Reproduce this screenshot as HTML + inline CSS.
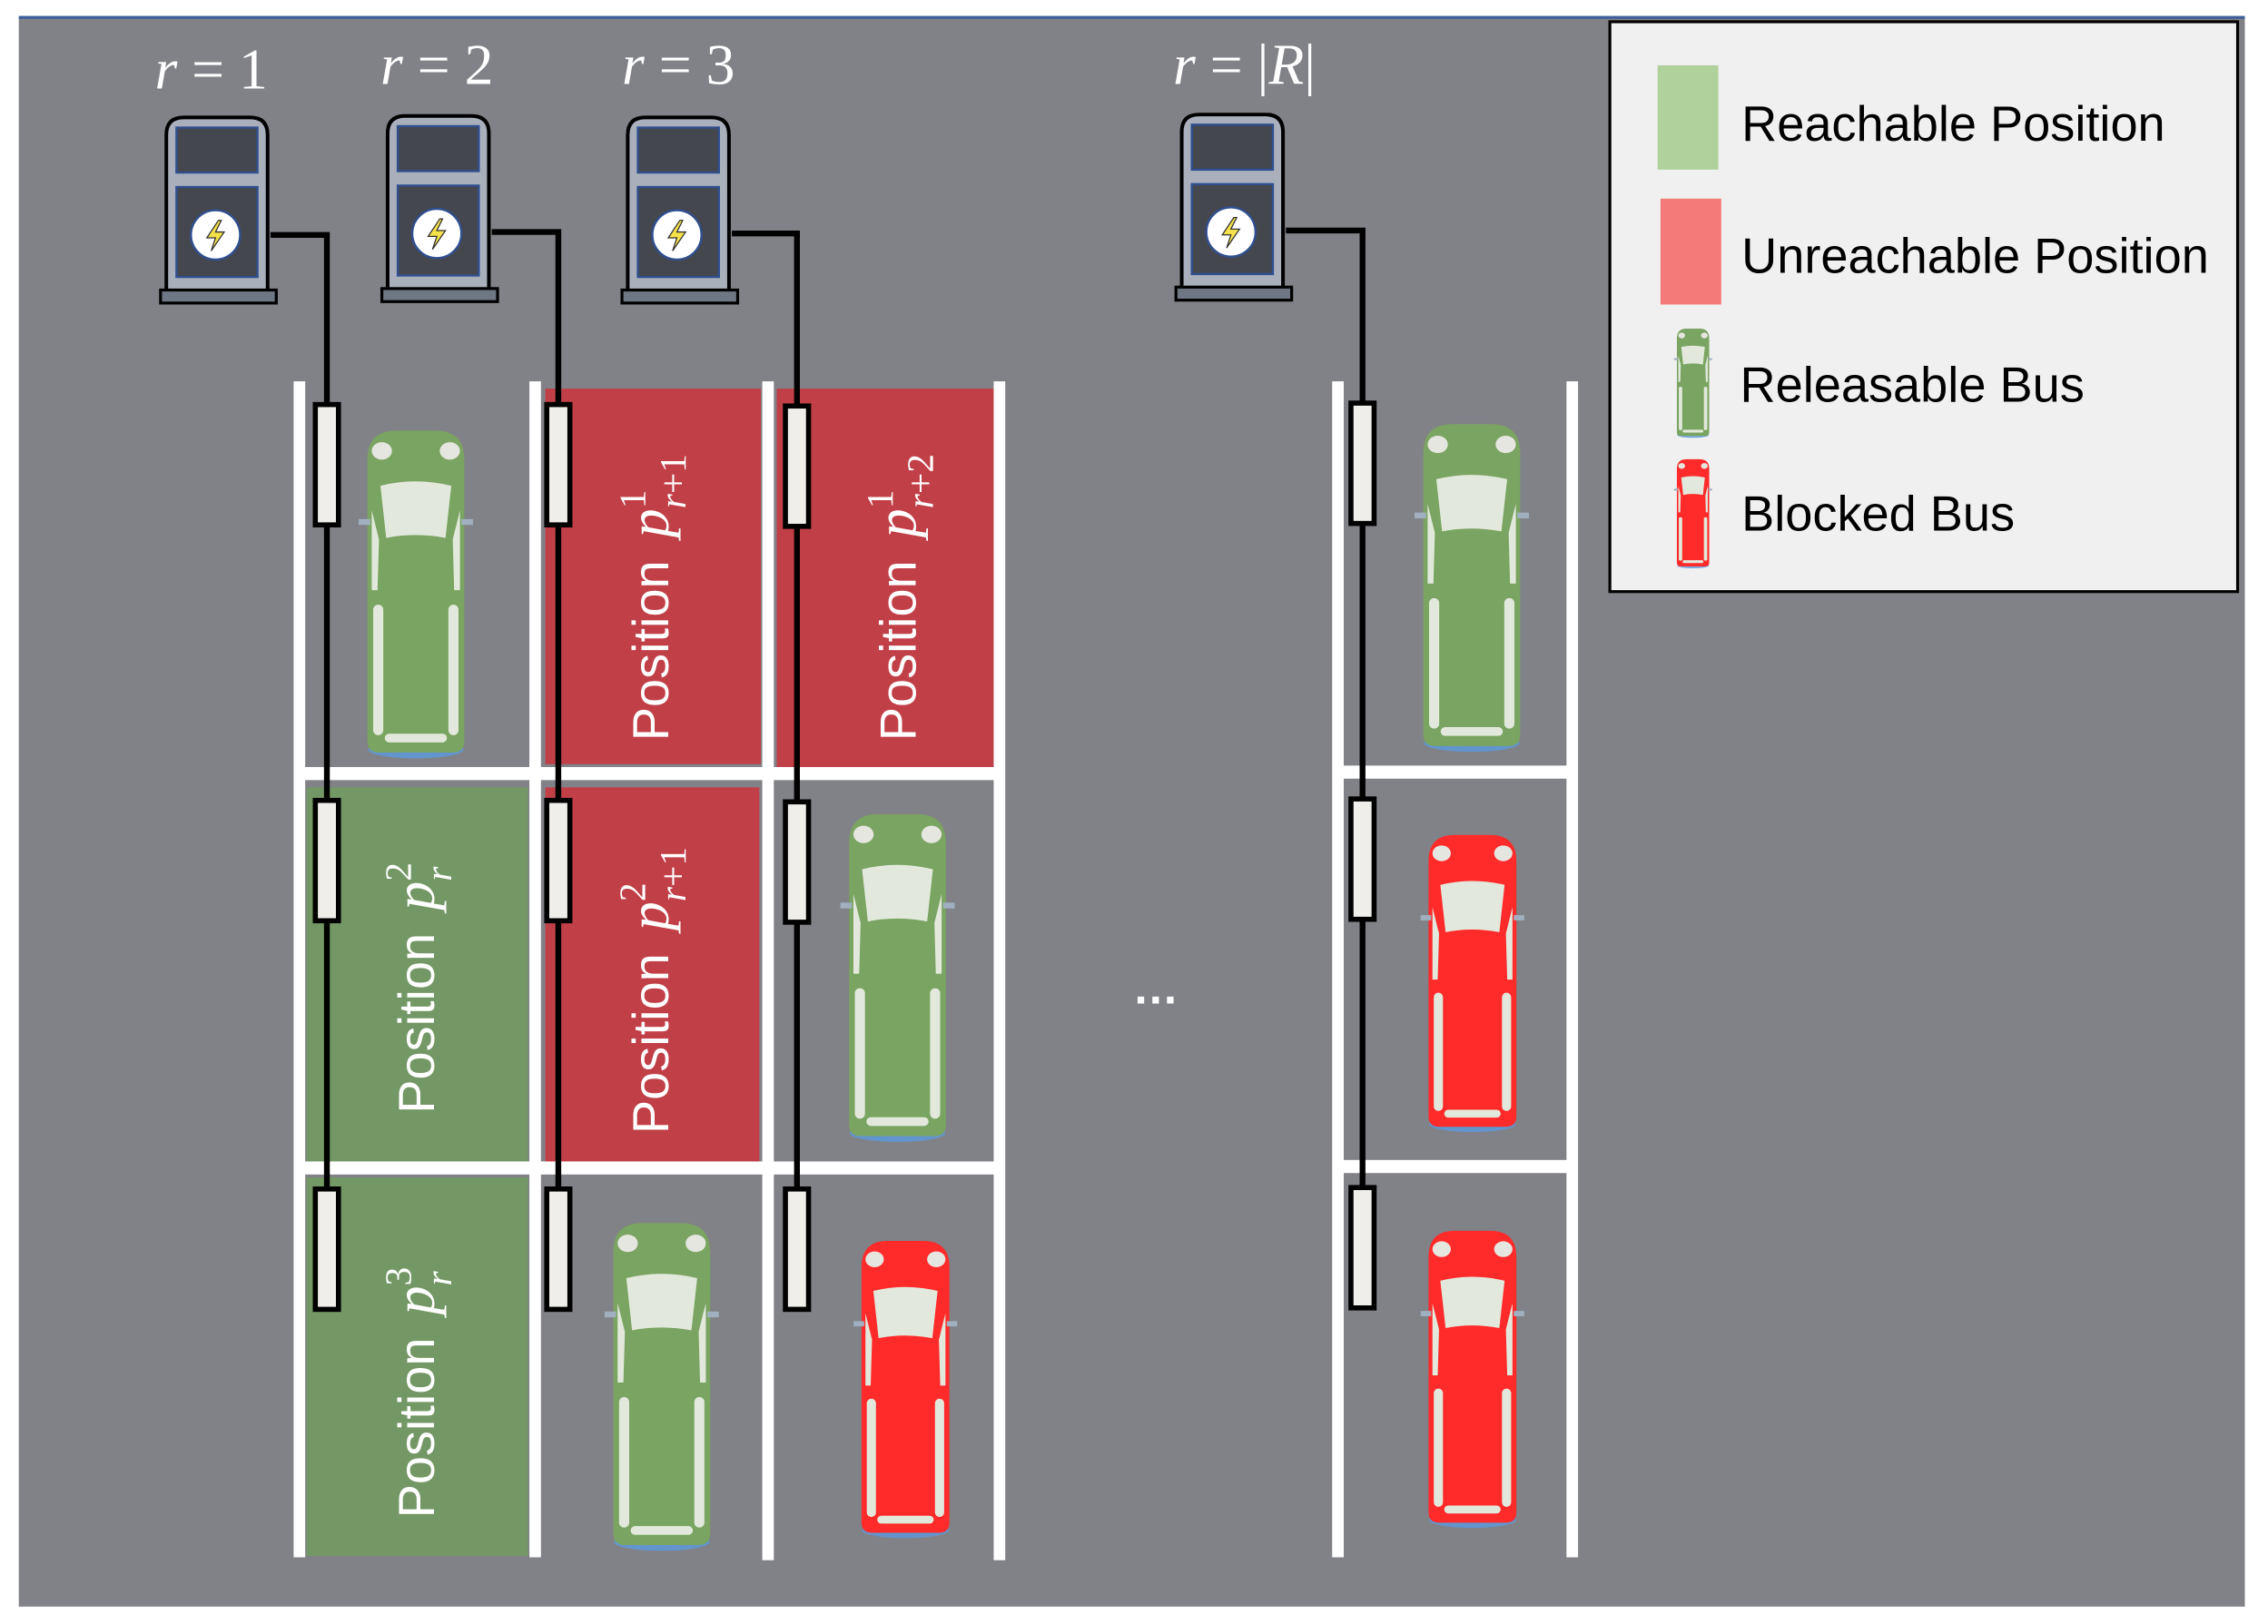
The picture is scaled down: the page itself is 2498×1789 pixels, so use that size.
<!DOCTYPE html>
<html><head><meta charset="utf-8"><style>
html,body{margin:0;padding:0;background:#fff;}
svg{display:block;}
.lbl{font-family:"Liberation Sans",sans-serif;font-size:35px;fill:#fff;}
.m{font-family:"Liberation Serif",serif;font-style:italic;}
.n{font-family:"Liberation Serif",serif;}
</style></head><body>
<svg width="2498" height="1789" viewBox="0 0 1568 1120" preserveAspectRatio="none" xmlns="http://www.w3.org/2000/svg">
<defs>
<symbol id="st" viewBox="0 0 82 130" overflow="visible">
  <path d="M4,124 L4,14 Q4,2 16,2 L62,2 Q74,2 74,14 L74,124 Z" fill="#a9b0bb" stroke="#000" stroke-width="2.5"/>
  <rect x="11" y="9" width="56" height="31" fill="#45474f" stroke="#2f4f8f" stroke-width="1.5"/>
  <rect x="11" y="50" width="56" height="62" fill="#45474f" stroke="#2f4f8f" stroke-width="1.5"/>
  <circle cx="38" cy="83" r="17" fill="#fff" stroke="#2f4f8f" stroke-width="1.5"/>
  <path d="M40,73 L32,85 L38,85 L35,94 L44,81 L38,81 L42,73 Z" fill="#f5e14a" stroke="#333" stroke-width="0.8"/>
  <rect x="0" y="121" width="80" height="9" fill="#6f7684" stroke="#000" stroke-width="2"/>
</symbol>
<symbol id="bus" viewBox="0 0 75 225" overflow="visible">
  <ellipse cx="37.5" cy="222" rx="33" ry="6" fill="#5a9ae0" opacity="0.8"/>
  <path d="M4,216 L4,22 Q4,2 24,2 L51,2 Q71,2 71,22 L71,216 Q71,224 63,224 L12,224 Q4,224 4,216 Z" fill="currentColor"/>
  <ellipse cx="14" cy="16" rx="7" ry="6" fill="#e6e6e0"/>
  <ellipse cx="61" cy="16" rx="7" ry="6" fill="#e6e6e0"/>
  <path d="M13,40 Q37,34 62,40 L58,76 Q37,72 17,76 Z" fill="#e2e9dc"/>
  <rect x="-2" y="63" width="8" height="4" fill="#a0b0c0"/>
  <rect x="69" y="63" width="8" height="4" fill="#a0b0c0"/>
  <path d="M7,57 L12,77 L11,112 L7,112 Z" fill="#e2e9dc"/>
  <path d="M68,57 L63,77 L64,112 L68,112 Z" fill="#e2e9dc"/>
  <rect x="8" y="122" width="7" height="90" rx="3.5" fill="#e2e9dc"/>
  <rect x="60" y="122" width="7" height="90" rx="3.5" fill="#e2e9dc"/>
  <rect x="16" y="211" width="43" height="6" rx="3" fill="#e2e9dc"/>
</symbol>
</defs>
<rect x="0" y="0" width="1568" height="1120" fill="#fff"/>
<rect x="13" y="12" width="1539" height="1096" fill="#818287"/>
<rect x="13" y="11" width="1539" height="2" fill="#3d5f9a"/>

<rect x="377" y="268" width="149" height="259" fill="#c13f47"/>
<rect x="537" y="268" width="150" height="262" fill="#c13f47"/>
<rect x="377" y="543" width="148" height="259" fill="#c13f47"/>
<rect x="212" y="543" width="153" height="258" fill="#739765"/>
<rect x="212" y="812" width="153" height="261" fill="#739765"/>

<g fill="#fff">
<rect x="203" y="263" width="8" height="811"/>
<rect x="366" y="263" width="8" height="811"/>
<rect x="527" y="263" width="8" height="813"/>
<rect x="687" y="263" width="8" height="813"/>
<rect x="207" y="529" width="484" height="9"/>
<rect x="207" y="801" width="484" height="9"/>
<rect x="921" y="263" width="8" height="811"/>
<rect x="1083" y="263" width="8" height="811"/>
<rect x="925" y="528" width="162" height="9"/>
<rect x="925" y="800" width="162" height="9"/>
</g>

<use href="#st" x="111" y="79" width="82" height="130"/>
<use href="#st" x="264" y="78" width="82" height="130"/>
<use href="#st" x="430" y="79" width="82" height="130"/>
<use href="#st" x="813" y="77" width="82" height="130"/>

<g fill="none" stroke="#000" stroke-width="4">
<path d="M187,162 H226 V900"/>
<path d="M340,160 H386 V900"/>
<path d="M506,161 H551 V900"/>
<path d="M889,159 H942 V900"/>
</g>
<g fill="#efeeea" stroke="#000" stroke-width="3.5">
<rect x="218" y="279" width="16" height="83"/><rect x="218" y="552" width="16" height="83"/><rect x="218" y="820" width="16" height="83"/>
<rect x="378" y="279" width="16" height="83"/><rect x="378" y="552" width="16" height="83"/><rect x="378" y="820" width="16" height="83"/>
<rect x="543" y="280" width="16" height="83"/><rect x="543" y="553" width="16" height="83"/><rect x="543" y="820" width="16" height="83"/>
<rect x="934" y="278" width="16" height="83"/><rect x="934" y="551" width="16" height="83"/><rect x="934" y="819" width="16" height="83"/>
</g>

<use href="#bus" x="250" y="295" width="75" height="225" color="#7aa461"/>
<use href="#bus" x="583" y="558" width="75" height="228" color="#7aa461"/>
<use href="#bus" x="420" y="840" width="75" height="228" color="#7aa461"/>
<use href="#bus" x="980" y="290" width="75" height="226" color="#7aa461"/>
<use href="#bus" x="592" y="845" width="68" height="222" color="#ff2a2a"/>
<use href="#bus" x="984" y="565" width="68" height="222" color="#ff2a2a"/>
<use href="#bus" x="984" y="838" width="68" height="222" color="#ff2a2a"/>

<text class="lbl" transform="translate(462,511) rotate(-90)">Position <tspan class="m" font-size="40" dx="6">p</tspan><tspan class="n" font-size="26" dy="-16">1</tspan><tspan class="m" font-size="26" dx="-13" dy="28">r</tspan><tspan class="n" font-size="26">+1</tspan></text>
<text class="lbl" transform="translate(633,511) rotate(-90)">Position <tspan class="m" font-size="40" dx="6">p</tspan><tspan class="n" font-size="26" dy="-16">1</tspan><tspan class="m" font-size="26" dx="-13" dy="28">r</tspan><tspan class="n" font-size="26">+2</tspan></text>
<text class="lbl" transform="translate(300,768) rotate(-90)">Position <tspan class="m" font-size="40" dx="6">p</tspan><tspan class="n" font-size="26" dy="-16">2</tspan><tspan class="m" font-size="26" dx="-13" dy="28">r</tspan></text>
<text class="lbl" transform="translate(462,782) rotate(-90)">Position <tspan class="m" font-size="40" dx="6">p</tspan><tspan class="n" font-size="26" dy="-16">2</tspan><tspan class="m" font-size="26" dx="-13" dy="28">r</tspan><tspan class="n" font-size="26">+1</tspan></text>
<text class="lbl" transform="translate(300,1047) rotate(-90)">Position <tspan class="m" font-size="40" dx="6">p</tspan><tspan class="n" font-size="26" dy="-16">3</tspan><tspan class="m" font-size="26" dx="-13" dy="28">r</tspan></text>

<g font-family="Liberation Serif,serif" font-size="40" fill="#fff">
<text x="107" y="61"><tspan font-style="italic">r</tspan><tspan dx="10">=</tspan><tspan dx="10">1</tspan></text>
<text x="263" y="58"><tspan font-style="italic">r</tspan><tspan dx="10">=</tspan><tspan dx="10">2</tspan></text>
<text x="430" y="58"><tspan font-style="italic">r</tspan><tspan dx="10">=</tspan><tspan dx="10">3</tspan></text>
<text x="811" y="58"><tspan font-style="italic">r</tspan><tspan dx="10">=</tspan><tspan dx="10">|</tspan><tspan font-style="italic">R</tspan>|</text>
</g>
<text x="783" y="692" font-family="Liberation Sans,sans-serif" font-size="32" font-weight="bold" fill="#fff">…</text>

<rect x="1113" y="15" width="434" height="393" fill="#f0f0f0" stroke="#000" stroke-width="2"/>
<rect x="1146" y="45" width="42" height="72" fill="#b0d09c"/>
<rect x="1148" y="137" width="42" height="73" fill="#f47a7a"/>
<use href="#bus" x="1158" y="224" width="25" height="79" color="#7aa461"/>
<use href="#bus" x="1158" y="314" width="25" height="79" color="#ff2a2a"/>
<g font-family="Liberation Sans,sans-serif" font-size="34" fill="#000">
<text x="1204" y="97">Reachable Position</text>
<text x="1204" y="188">Unreachable Position</text>
<text x="1203" y="277">Releasable Bus</text>
<text x="1204" y="366">Blocked Bus</text>
</g>
</svg>
</body></html>
